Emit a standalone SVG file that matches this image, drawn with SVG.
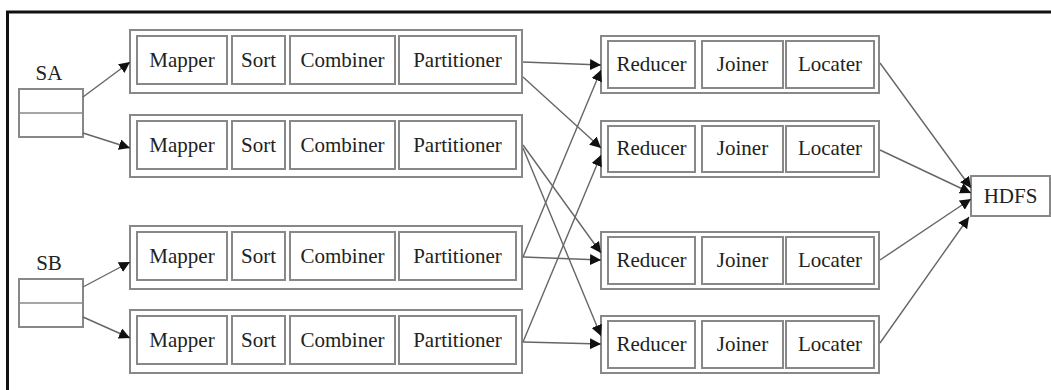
<svg xmlns="http://www.w3.org/2000/svg" width="1051" height="390" viewBox="0 0 1051 390">
<style>
  text { font-family: "Liberation Serif", "Times New Roman", serif; font-size: 21px; fill: #222; text-anchor: middle; }
  .outer { fill: #fff; stroke: #888; stroke-width: 2; }
  .cell { fill: #fff; stroke: #888; stroke-width: 2; }
  .edge { fill: none; stroke: #666; stroke-width: 1.4; marker-end: url(#arr); }
</style>
<defs>
  <marker id="arr" viewBox="0 0 10 10" refX="10" refY="5" markerWidth="11" markerHeight="11" markerUnits="userSpaceOnUse" orient="auto">
    <path d="M0,0 L10,5 L0,10 z" fill="#111"/>
  </marker>
</defs>
<rect x="0" y="0" width="1051" height="390" fill="#fff"/>
<rect x="7.5" y="12" width="1060" height="400" fill="none" stroke="#111" stroke-width="3"/>

<g id="SA">
  <text x="49" y="80">SA</text>
  <rect x="19" y="89" width="64" height="48" class="cell" stroke-width="1.5"/>
  <line x1="19" y1="113" x2="83" y2="113" stroke="#888" stroke-width="1.5"/>
</g>
<g id="SB">
  <text x="49" y="270">SB</text>
  <rect x="19" y="279" width="64" height="48" class="cell" stroke-width="1.5"/>
  <line x1="19" y1="303" x2="83" y2="303" stroke="#888" stroke-width="1.5"/>
</g>

<g id="map1">
  <rect x="130" y="30" width="392" height="63" class="outer"/>
  <rect x="137" y="36" width="90" height="48" class="cell"/><text x="182" y="67">Mapper</text>
  <rect x="232" y="36" width="53" height="48" class="cell"/><text x="258.5" y="67">Sort</text>
  <rect x="290" y="36" width="105" height="48" class="cell"/><text x="342.5" y="67">Combiner</text>
  <rect x="399" y="36" width="117" height="48" class="cell"/><text x="457.5" y="67">Partitioner</text>
</g>
<g id="map2">
  <rect x="130" y="115" width="392" height="62" class="outer"/>
  <rect x="137" y="121" width="90" height="48" class="cell"/><text x="182" y="152">Mapper</text>
  <rect x="232" y="121" width="53" height="48" class="cell"/><text x="258.5" y="152">Sort</text>
  <rect x="290" y="121" width="105" height="48" class="cell"/><text x="342.5" y="152">Combiner</text>
  <rect x="399" y="121" width="117" height="48" class="cell"/><text x="457.5" y="152">Partitioner</text>
</g>
<g id="map3">
  <rect x="130" y="226" width="392" height="63" class="outer"/>
  <rect x="137" y="232" width="90" height="48" class="cell"/><text x="182" y="263">Mapper</text>
  <rect x="232" y="232" width="53" height="48" class="cell"/><text x="258.5" y="263">Sort</text>
  <rect x="290" y="232" width="105" height="48" class="cell"/><text x="342.5" y="263">Combiner</text>
  <rect x="399" y="232" width="117" height="48" class="cell"/><text x="457.5" y="263">Partitioner</text>
</g>
<g id="map4">
  <rect x="130" y="310" width="392" height="63" class="outer"/>
  <rect x="137" y="316" width="90" height="48" class="cell"/><text x="182" y="347">Mapper</text>
  <rect x="232" y="316" width="53" height="48" class="cell"/><text x="258.5" y="347">Sort</text>
  <rect x="290" y="316" width="105" height="48" class="cell"/><text x="342.5" y="347">Combiner</text>
  <rect x="399" y="316" width="117" height="48" class="cell"/><text x="457.5" y="347">Partitioner</text>
</g>

<g id="red1">
  <rect x="601" y="36" width="278" height="57" class="outer"/>
  <rect x="608" y="41" width="87" height="47" class="cell"/><text x="651.5" y="71">Reducer</text>
  <rect x="702" y="41" width="81" height="47" class="cell"/><text x="742.5" y="71">Joiner</text>
  <rect x="786" y="41" width="88" height="47" class="cell"/><text x="830" y="71">Locater</text>
</g>
<g id="red2">
  <rect x="601" y="121" width="278" height="56" class="outer"/>
  <rect x="608" y="126" width="87" height="46" class="cell"/><text x="651.5" y="155">Reducer</text>
  <rect x="702" y="126" width="81" height="46" class="cell"/><text x="742.5" y="155">Joiner</text>
  <rect x="786" y="126" width="88" height="46" class="cell"/><text x="830" y="155">Locater</text>
</g>
<g id="red3">
  <rect x="601" y="232" width="278" height="57" class="outer"/>
  <rect x="608" y="237" width="87" height="47" class="cell"/><text x="651.5" y="267">Reducer</text>
  <rect x="702" y="237" width="81" height="47" class="cell"/><text x="742.5" y="267">Joiner</text>
  <rect x="786" y="237" width="88" height="47" class="cell"/><text x="830" y="267">Locater</text>
</g>
<g id="red4">
  <rect x="601" y="316" width="278" height="57" class="outer"/>
  <rect x="608" y="321" width="87" height="47" class="cell"/><text x="651.5" y="351">Reducer</text>
  <rect x="702" y="321" width="81" height="47" class="cell"/><text x="742.5" y="351">Joiner</text>
  <rect x="786" y="321" width="88" height="47" class="cell"/><text x="830" y="351">Locater</text>
</g>

<g id="HDFS">
  <rect x="971" y="176" width="79" height="40" class="cell"/>
  <text x="1010.5" y="203">HDFS</text>
</g>

<g id="connectors">
  <line class="edge" x1="83" y1="97" x2="130" y2="62"/>
  <line class="edge" x1="83" y1="133" x2="130" y2="148"/>
  <line class="edge" x1="83" y1="287" x2="130" y2="262"/>
  <line class="edge" x1="83" y1="317" x2="130" y2="338"/>

  <line class="edge" x1="523" y1="62" x2="601" y2="65"/>
  <line class="edge" x1="523" y1="77" x2="601" y2="148"/>
  <line class="edge" x1="523" y1="145" x2="601" y2="253"/>
  <line class="edge" x1="523" y1="148" x2="601" y2="336"/>
  <line class="edge" x1="523" y1="257" x2="601" y2="70"/>
  <line class="edge" x1="523" y1="257" x2="601" y2="260"/>
  <line class="edge" x1="523" y1="342" x2="601" y2="155"/>
  <line class="edge" x1="523" y1="342" x2="601" y2="344"/>

  <line class="edge" x1="880" y1="63" x2="971" y2="188"/>
  <line class="edge" x1="880" y1="150" x2="971" y2="193"/>
  <line class="edge" x1="880" y1="260" x2="971" y2="199"/>
  <line class="edge" x1="880" y1="343" x2="969" y2="217"/>
</g>
</svg>
